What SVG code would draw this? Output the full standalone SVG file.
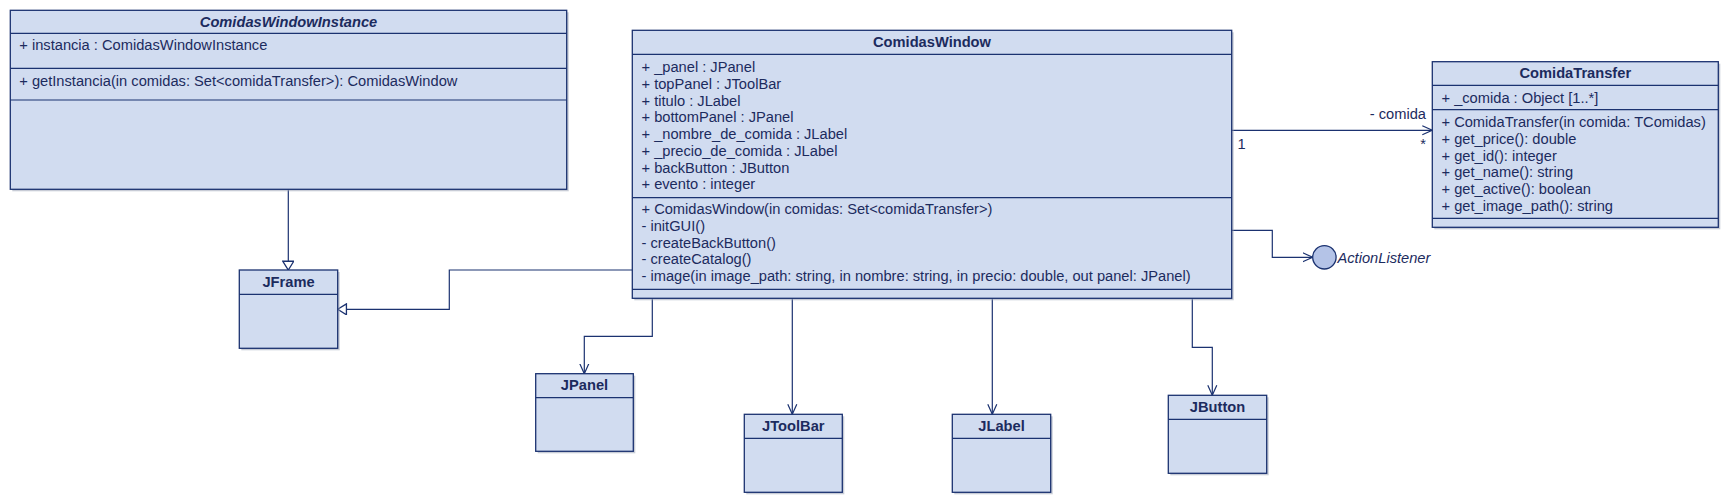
<svg xmlns="http://www.w3.org/2000/svg" width="1730" height="504" viewBox="0 0 1730 504">
<style>
.box{fill:#d1dcf0;stroke:#1b3270;stroke-width:1.3}
.sh{fill:#9aa3b5;opacity:0.55}
.div{stroke:#1b3270;stroke-width:1.2;fill:none}
.t{font-family:"Liberation Sans",Arial,sans-serif;font-size:14.67px;fill:#1c2b5e}
.title{font-family:"Liberation Sans",Arial,sans-serif;font-size:14.67px;font-weight:bold;fill:#1c2b5e;text-anchor:middle}
.it{font-style:italic}
.c{stroke:#1b3270;stroke-width:1.2;fill:none}
</style>
<defs>
<marker id="open" markerUnits="userSpaceOnUse" markerWidth="12" markerHeight="12" refX="10" refY="5" orient="auto" viewBox="0 0 12 10">
<path d="M0,0.5 L10,5 L0,9.5" fill="none" stroke="#1b3270" stroke-width="1.2"/>
</marker>
<marker id="gen" markerUnits="userSpaceOnUse" markerWidth="12" markerHeight="12" refX="8.5" refY="5.5" orient="auto" viewBox="0 0 10 11">
<path d="M0.5,0.5 L8.5,5.5 L0.5,10.5 Z" fill="#ffffff" stroke="#1b3270" stroke-width="1.2"/>
</marker>
</defs>
<rect width="1730" height="504" fill="#ffffff"/>

<g id="connectors">
<path class="c" d="M288.3,189.3 V270" marker-end="url(#gen)"/>
<path class="c" d="M632.3,270 H449.3 V309.3 H337.7" marker-end="url(#gen)"/>
<path class="c" d="M1231.7,130.3 H1432.3" marker-end="url(#open)"/>
<text class="t" x="1426" y="119.3" text-anchor="end">- comida</text>
<text class="t" x="1237.5" y="149.3">1</text>
<text class="t" x="1426" y="149.3" text-anchor="end">*</text>
<path class="c" d="M1231.7,230.3 H1272.3 V257.3 H1312.7" marker-end="url(#open)"/>
<path class="c" d="M652.3,298.3 V336.3 H584.3 V373.7" marker-end="url(#open)"/>
<path class="c" d="M792.3,298.3 V414.3" marker-end="url(#open)"/>
<path class="c" d="M992.3,298.3 V414.3" marker-end="url(#open)"/>
<path class="c" d="M1192.3,298.3 V347.3 H1212.3 V395.3" marker-end="url(#open)"/>
</g>

<g id="ComidasWindowInstance">
<rect class="sh" x="12.3" y="12.3" width="556.4" height="179"/>
<rect class="box" x="10.3" y="10.3" width="556.4" height="179"/>
<path class="div" d="M10.3,33.3 H566.7 M10.3,68.3 H566.7 M10.3,100 H566.7"/>
<text class="title it" x="288.5" y="26.7">ComidasWindowInstance</text>
<text class="t" x="19.3" y="50">+ instancia : ComidasWindowInstance</text>
<text class="t" x="19.3" y="85.7">+ getInstancia(in comidas: Set&lt;comidaTransfer&gt;): ComidasWindow</text>
</g>

<g id="ComidasWindow">
<rect class="sh" x="634.3" y="32.3" width="599.4" height="268"/>
<rect class="box" x="632.3" y="30.3" width="599.4" height="268"/>
<path class="div" d="M632.3,54.3 H1231.7 M632.3,197.7 H1231.7 M632.3,289.3 H1231.7"/>
<text class="title" x="932" y="46.8">ComidasWindow</text>
<text class="t" x="641.5" y="72.3">+ _panel : JPanel</text>
<text class="t" x="641.5" y="89">+ topPanel : JToolBar</text>
<text class="t" x="641.5" y="105.7">+ titulo : JLabel</text>
<text class="t" x="641.5" y="122.4">+ bottomPanel : JPanel</text>
<text class="t" x="641.5" y="139.1">+ _nombre_de_comida : JLabel</text>
<text class="t" x="641.5" y="155.8">+ _precio_de_comida : JLabel</text>
<text class="t" x="641.5" y="172.5">+ backButton : JButton</text>
<text class="t" x="641.5" y="189.2">+ evento : integer</text>
<text class="t" x="641.5" y="214.3">+ ComidasWindow(in comidas: Set&lt;comidaTransfer&gt;)</text>
<text class="t" x="641.5" y="231">- initGUI()</text>
<text class="t" x="641.5" y="247.7">- createBackButton()</text>
<text class="t" x="641.5" y="264.4">- createCatalog()</text>
<text class="t" x="641.5" y="281.1">- image(in image_path: string, in nombre: string, in precio: double, out panel: JPanel)</text>
</g>

<g id="ComidaTransfer">
<rect class="sh" x="1434.3" y="63.7" width="286" height="165.6"/>
<rect class="box" x="1432.3" y="61.7" width="286" height="165.6"/>
<path class="div" d="M1432.3,85.3 H1718.3 M1432.3,109.7 H1718.3 M1432.3,218.3 H1718.3"/>
<text class="title" x="1575.3" y="78">ComidaTransfer</text>
<text class="t" x="1441.5" y="103.3">+ _comida : Object [1..*]</text>
<text class="t" x="1441.5" y="127.3">+ ComidaTransfer(in comida: TComidas)</text>
<text class="t" x="1441.5" y="144">+ get_price(): double</text>
<text class="t" x="1441.5" y="160.7">+ get_id(): integer</text>
<text class="t" x="1441.5" y="177.4">+ get_name(): string</text>
<text class="t" x="1441.5" y="194.1">+ get_active(): boolean</text>
<text class="t" x="1441.5" y="210.8">+ get_image_path(): string</text>
</g>

<g id="ActionListener">
<circle cx="1324.4" cy="257.3" r="11.7" fill="#b4c3e7" stroke="#1b3270" stroke-width="1.3"/>
<text class="t it" x="1337.5" y="262.5">ActionListener</text>
</g>

<g id="JFrame">
<rect class="sh" x="241.3" y="272" width="98.4" height="78.3"/>
<rect class="box" x="239.3" y="270" width="98.4" height="78.3"/>
<path class="div" d="M239.3,294.3 H337.7"/>
<text class="title" x="288.5" y="286.7">JFrame</text>
</g>

<g id="JPanel">
<rect class="sh" x="537.7" y="375.7" width="97.6" height="77.6"/>
<rect class="box" x="535.7" y="373.7" width="97.6" height="77.6"/>
<path class="div" d="M535.7,397.7 H633.3"/>
<text class="title" x="584.5" y="390.2">JPanel</text>
</g>

<g id="JToolBar">
<rect class="sh" x="746.3" y="416.3" width="98" height="78"/>
<rect class="box" x="744.3" y="414.3" width="98" height="78"/>
<path class="div" d="M744.3,438.3 H842.3"/>
<text class="title" x="793.3" y="430.8">JToolBar</text>
</g>

<g id="JLabel">
<rect class="sh" x="954.3" y="416.3" width="98.4" height="78"/>
<rect class="box" x="952.3" y="414.3" width="98.4" height="78"/>
<path class="div" d="M952.3,438.3 H1050.7"/>
<text class="title" x="1001.5" y="430.8">JLabel</text>
</g>

<g id="JButton">
<rect class="sh" x="1170.3" y="397.3" width="98.4" height="78"/>
<rect class="box" x="1168.3" y="395.3" width="98.4" height="78"/>
<path class="div" d="M1168.3,419.3 H1266.7"/>
<text class="title" x="1217.5" y="411.8">JButton</text>
</g>
</svg>
